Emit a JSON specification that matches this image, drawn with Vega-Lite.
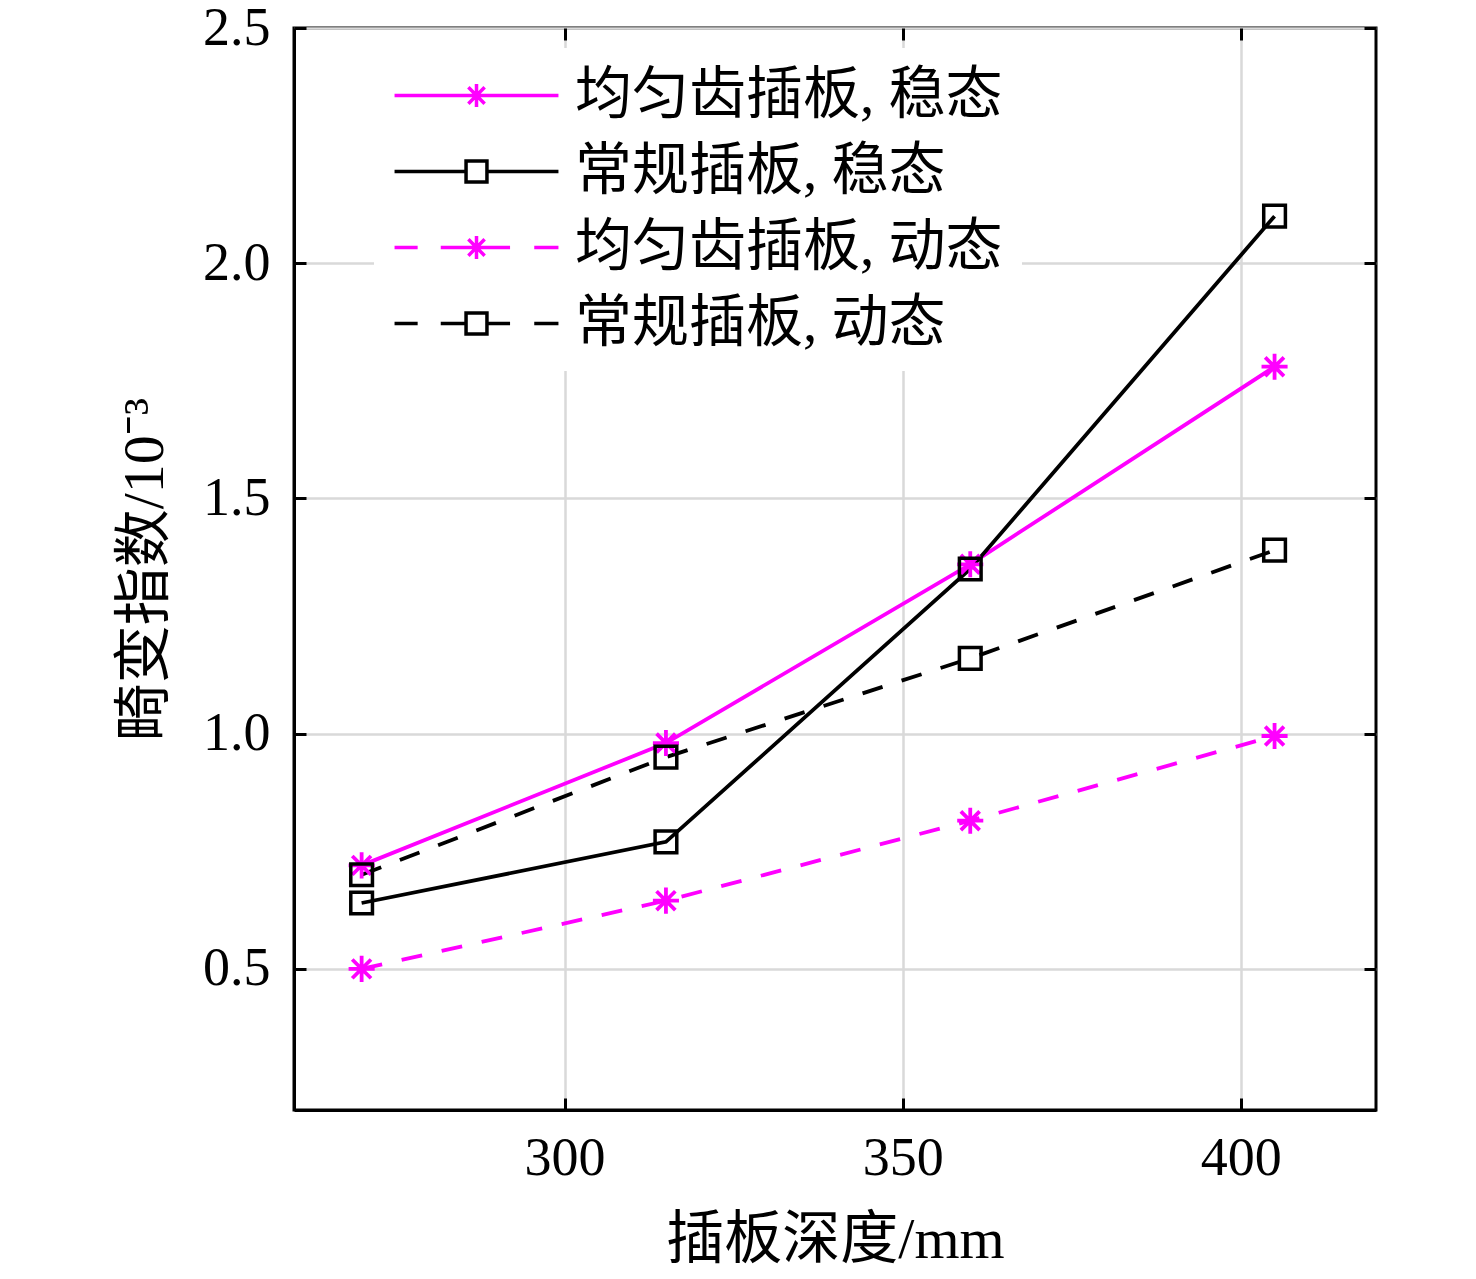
{
  "$schema": "https://vega.github.io/schema/vega-lite/v6.json",
  "width": 1082,
  "height": 1082,
  "autosize": {"type": "none"},
  "padding": {"left": 294, "top": 28, "right": 100, "bottom": 169},
  "background": "white",
  "config": {
    "font": "Liberation Serif",
    "view": {"stroke": "black", "strokeWidth": 3},
    "axis": {
      "labelFont": "Liberation Serif",
      "labelFontSize": 54,
      "labelColor": "black",
      "titleFont": "Liberation Serif, Noto Sans CJK SC",
      "titleFontSize": 58,
      "titleFontWeight": "normal",
      "titleColor": "black",
      "tickColor": "black",
      "tickWidth": 3,
      "tickSize": -12,
      "domainColor": "black",
      "domainWidth": 3,
      "gridColor": "#d9d9d9",
      "gridWidth": 2.5
    }
  },
  "data": {
    "values": [
      {"depth": 270, "index": 0.72, "series": "均匀齿插板, 稳态"},
      {"depth": 315, "index": 0.98, "series": "均匀齿插板, 稳态"},
      {"depth": 360, "index": 1.36, "series": "均匀齿插板, 稳态"},
      {"depth": 405, "index": 1.78, "series": "均匀齿插板, 稳态"},
      {"depth": 270, "index": 0.64, "series": "常规插板, 稳态"},
      {"depth": 315, "index": 0.77, "series": "常规插板, 稳态"},
      {"depth": 360, "index": 1.35, "series": "常规插板, 稳态"},
      {"depth": 405, "index": 2.1, "series": "常规插板, 稳态"},
      {"depth": 270, "index": 0.5, "series": "均匀齿插板, 动态"},
      {"depth": 315, "index": 0.645, "series": "均匀齿插板, 动态"},
      {"depth": 360, "index": 0.815, "series": "均匀齿插板, 动态"},
      {"depth": 405, "index": 0.995, "series": "均匀齿插板, 动态"},
      {"depth": 270, "index": 0.7, "series": "常规插板, 动态"},
      {"depth": 315, "index": 0.95, "series": "常规插板, 动态"},
      {"depth": 360, "index": 1.16, "series": "常规插板, 动态"},
      {"depth": 405, "index": 1.39, "series": "常规插板, 动态"}
    ]
  },
  "resolve": {"axis": {"x": "independent", "y": "independent"}},
  "layer": [
    {
      "transform": [{"filter": {"field": "series", "oneOf": ["均匀齿插板, 稳态", "常规插板, 稳态"]}}],
      "mark": {"type": "line", "strokeWidth": 3.8},
      "encoding": {
        "x": {
          "field": "depth",
          "type": "quantitative",
          "scale": {"domain": [260, 420], "nice": false, "zero": false},
          "axis": {
            "values": [300, 350, 400],
            "grid": true,
            "labelPadding": 33,
            "title": "插板深度/mm",
            "titleX": 541,
            "titleY": 130,
            "titleBaseline": "middle"
          }
        },
        "y": {
          "field": "index",
          "type": "quantitative",
          "scale": {"domain": [0.2, 2.5], "nice": false, "zero": false},
          "axis": {
            "values": [0.5, 1.0, 1.5, 2.0, 2.5],
            "format": ".1f",
            "grid": true,
            "labelPadding": 36,
            "title": "畸变指数/10⁻³",
            "titleX": -149,
            "titleY": 541,
            "titleAngle": -90,
            "titleBaseline": "middle"
          }
        },
        "color": {
          "field": "series",
          "type": "nominal",
          "scale": {
            "domain": ["均匀齿插板, 稳态", "常规插板, 稳态", "均匀齿插板, 动态", "常规插板, 动态"],
            "range": ["#ff00ff", "#000000", "#ff00ff", "#000000"]
          },
          "legend": {
            "title": null,
            "orient": "none",
            "legendX": 80,
            "legendY": 20,
            "padding": 19,
            "fillColor": "white",
            "rowPadding": 18,
            "labelFont": "Liberation Serif, Noto Sans CJK SC",
            "labelFontSize": 57,
            "labelColor": "black",
            "labelLimit": 800,
            "labelOffset": 125,
            "symbolStrokeWidth": 3.5,
            "encode": {
              "symbols": {
                "update": {
                  "size": {"value": 484},
                  "strokeWidth": {"value": 3.5},
                  "fill": {"value": "transparent"},
                  "shape": {
                    "signal": "datum.value === '均匀齿插板, 稳态' ? 'M-2.45,0L12.45,0M5,-1.05L5,1.05M4.26,-0.74L5.74,0.74M4.26,0.74L5.74,-0.74' : datum.value === '常规插板, 稳态' ? 'M-2.45,0L4.05,0M5.95,0L12.45,0M4.05,-0.95L5.95,-0.95L5.95,0.95L4.05,0.95Z' : datum.value === '均匀齿插板, 动态' ? 'M-2.45,0L-0.35,0M1.75,0L8.05,0M10.25,0L12.45,0M5,-1.05L5,1.05M4.26,-0.74L5.74,0.74M4.26,0.74L5.74,-0.74' : 'M-2.45,0L-0.35,0M1.75,0L4.05,0M5.95,0L8.05,0M10.25,0L12.45,0M4.05,-0.95L5.95,-0.95L5.95,0.95L4.05,0.95Z'"
                  }
                }
              }
            }
          }
        }
      }
    },
    {
      "transform": [{"filter": {"field": "series", "oneOf": ["均匀齿插板, 动态", "常规插板, 动态"]}}],
      "mark": {"type": "line", "strokeWidth": 3.8, "strokeDash": [21, 20]},
      "encoding": {
        "x": {"field": "depth", "type": "quantitative", "axis": null},
        "y": {"field": "index", "type": "quantitative", "axis": null},
        "color": {"field": "series", "type": "nominal"}
      }
    },
    {
      "transform": [{"filter": {"field": "series", "oneOf": ["均匀齿插板, 稳态", "均匀齿插板, 动态"]}}],
      "mark": {
        "type": "point",
        "filled": false,
        "strokeWidth": 3.8,
        "opacity": 1,
        "size": 680,
        "shape": "M0,-1L0,1M-1,0L1,0M-0.72,-0.72L0.72,0.72M-0.72,0.72L0.72,-0.72"
      },
      "encoding": {
        "x": {"field": "depth", "type": "quantitative", "axis": null},
        "y": {"field": "index", "type": "quantitative", "axis": null},
        "color": {"field": "series", "type": "nominal"}
      }
    },
    {
      "transform": [{"filter": {"field": "series", "oneOf": ["常规插板, 稳态", "常规插板, 动态"]}}],
      "mark": {"type": "point", "filled": false, "strokeWidth": 3.5, "opacity": 1, "size": 470, "shape": "square"},
      "encoding": {
        "x": {
          "field": "depth",
          "type": "quantitative",
          "axis": {"orient": "top", "values": [300, 350, 400], "labels": false, "title": null, "grid": false, "domain": false}
        },
        "y": {
          "field": "index",
          "type": "quantitative",
          "axis": {"orient": "right", "values": [0.5, 1.0, 1.5, 2.0, 2.5], "labels": false, "title": null, "grid": false, "domain": false}
        },
        "color": {"field": "series", "type": "nominal"}
      }
    }
  ]
}
